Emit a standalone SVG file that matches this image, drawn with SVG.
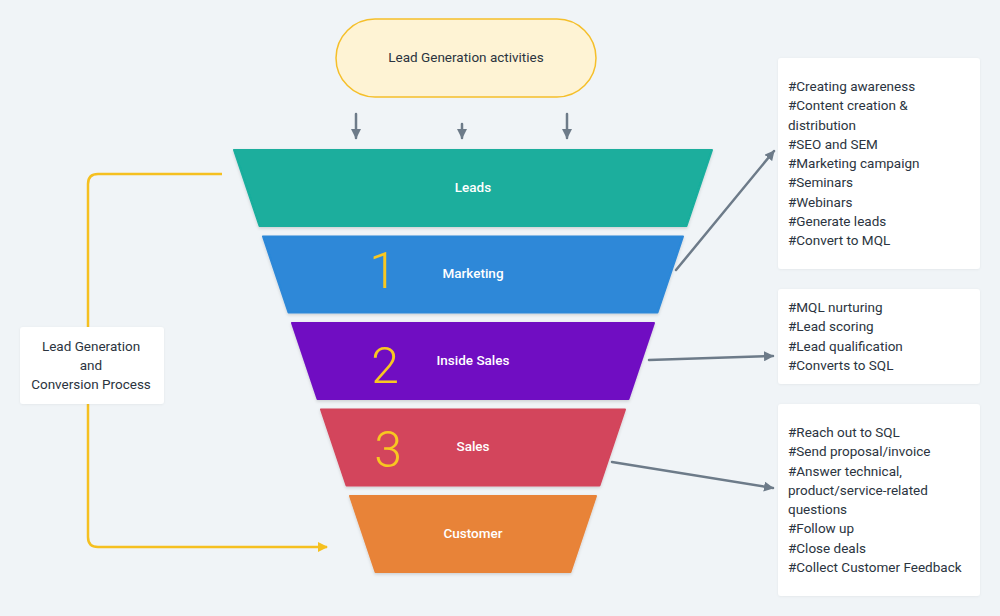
<svg xmlns="http://www.w3.org/2000/svg" width="1000" height="616" viewBox="0 0 1000 616">
  <defs>
    <style>
      .bg { fill: #f0f4f7; }
      .band { stroke-width: 2; stroke-linejoin: round; filter: url(#sh); }
      .lbl { font-family: Roboto, "Noto Sans", sans-serif; font-size: 13.5px; font-weight: 500; fill: #ffffff; text-anchor: middle; dominant-baseline: central; }
      .num { font-family: Roboto, "Noto Sans", sans-serif; font-size: 50px; font-weight: 300; fill: #f8c721; text-anchor: middle; dominant-baseline: central; }
      .txt { font-family: Roboto, "Noto Sans", sans-serif; font-size: 13.5px; fill: #2b3440; dominant-baseline: central; }
      .ctr { text-anchor: middle; }
      .box { fill: #ffffff; filter: url(#sh2); }
      .gray { fill: none; stroke: #6d7b89; stroke-width: 2.5; stroke-linecap: round; }
      .yel { fill: none; stroke: #f5c020; stroke-width: 2.5; }
    </style>
    <filter id="sh" x="-10%" y="-10%" width="120%" height="130%">
      <feDropShadow dx="0" dy="1.5" stdDeviation="1.5" flood-color="#000" flood-opacity="0.15"/>
    </filter>
    <filter id="sh2" x="-10%" y="-10%" width="120%" height="120%">
      <feDropShadow dx="0" dy="0.5" stdDeviation="0.8" flood-color="#000" flood-opacity="0.06"/>
    </filter>
    <marker id="ag" viewBox="0 0 10 10" refX="9" refY="5" markerWidth="10" markerHeight="10" markerUnits="userSpaceOnUse" orient="auto">
      <path d="M0,0 L10,5 L0,10 Z" fill="#6d7b89"/>
    </marker>
    <marker id="ay" viewBox="0 0 10 10" refX="9" refY="5" markerWidth="10" markerHeight="10" markerUnits="userSpaceOnUse" orient="auto">
      <path d="M0,0 L10,5 L0,10 Z" fill="#f5c020"/>
    </marker>
  </defs>

  <rect class="bg" x="0" y="0" width="1000" height="616"/>

  <g id="connectors">
    <line class="gray" x1="356" y1="114" x2="356" y2="138" marker-end="url(#ag)"/>
    <line class="gray" x1="462" y1="124" x2="462" y2="138" marker-end="url(#ag)"/>
    <line class="gray" x1="567" y1="114" x2="567" y2="138" marker-end="url(#ag)"/>
    <path class="yel" d="M222,174 H98 Q88,174 88,184 V537 Q88,547 98,547 H327" marker-end="url(#ay)"/>
    <line class="gray" x1="676" y1="270" x2="774" y2="151" marker-end="url(#ag)"/>
    <line class="gray" x1="649" y1="360" x2="773" y2="356" marker-end="url(#ag)"/>
    <line class="gray" x1="612" y1="462" x2="773" y2="488" marker-end="url(#ag)"/>
  </g>

  <g id="lead-gen-activities">
    <rect x="336" y="19" width="260" height="78" rx="39" fill="#fef3d4" stroke="#f5bf2a" stroke-width="1.5"/>
    <text class="txt ctr" x="466" y="57">Lead Generation activities</text>
  </g>

  <g id="leads">
    <polygon class="band" points="234,150 712,150 686.5,226 259.5,226" fill="#1aae9d" stroke="#1aae9d"/>
    <text class="lbl" x="473" y="187">Leads</text>
  </g>

  <g id="marketing">
    <polygon class="band" points="263,236.5 683,236.5 657.5,312.5 288.5,312.5" fill="#2d88d8" stroke="#2d88d8"/>
    <text class="num" x="383" y="271">1</text>
    <text class="lbl" x="473" y="273">Marketing</text>
  </g>

  <g id="inside-sales">
    <polygon class="band" points="292,323 654,323 628.5,399 317.5,399" fill="#700cc2" stroke="#700cc2"/>
    <text class="num" x="385" y="366">2</text>
    <text class="lbl" x="473" y="360">Inside Sales</text>
  </g>

  <g id="sales">
    <polygon class="band" points="321,409.5 625,409.5 599.5,485.5 346.5,485.5" fill="#d3455b" stroke="#d3455b"/>
    <text class="num" x="388" y="450">3</text>
    <text class="lbl" x="473" y="446">Sales</text>
  </g>

  <g id="customer">
    <polygon class="band" points="350,496 596,496 570.5,572 375.5,572" fill="#e88338" stroke="#e88338"/>
    <text class="lbl" x="473" y="533">Customer</text>
  </g>

  <g id="process-label">
    <rect class="box" x="20" y="327" width="144" height="77" rx="3"/>
    <text class="txt ctr" x="91" y="346">Lead Generation</text>
    <text class="txt ctr" x="91" y="365">and</text>
    <text class="txt ctr" x="91" y="384">Conversion Process</text>
  </g>

  <g id="marketing-notes">
    <rect class="box" x="778" y="58" width="202" height="211" rx="3"/>
    <text class="txt" x="788" y="86">#Creating awareness</text>
    <text class="txt" x="788" y="105">#Content creation &amp;</text>
    <text class="txt" x="788" y="124.5">distribution</text>
    <text class="txt" x="788" y="144">#SEO and SEM</text>
    <text class="txt" x="788" y="163">#Marketing campaign</text>
    <text class="txt" x="788" y="182">#Seminars</text>
    <text class="txt" x="788" y="201.5">#Webinars</text>
    <text class="txt" x="788" y="221">#Generate leads</text>
    <text class="txt" x="788" y="240">#Convert to MQL</text>
  </g>

  <g id="inside-sales-notes">
    <rect class="box" x="778" y="289" width="202" height="95" rx="3"/>
    <text class="txt" x="788" y="307">#MQL nurturing</text>
    <text class="txt" x="788" y="326">#Lead scoring</text>
    <text class="txt" x="788" y="345.5">#Lead qualification</text>
    <text class="txt" x="788" y="365">#Converts to SQL</text>
  </g>

  <g id="sales-notes">
    <rect class="box" x="778" y="404" width="202" height="192" rx="3"/>
    <text class="txt" x="788" y="432">#Reach out to SQL</text>
    <text class="txt" x="788" y="451">#Send proposal/invoice</text>
    <text class="txt" x="788" y="470.5">#Answer technical,</text>
    <text class="txt" x="788" y="490">product/service-related</text>
    <text class="txt" x="788" y="509">questions</text>
    <text class="txt" x="788" y="528">#Follow up</text>
    <text class="txt" x="788" y="547.5">#Close deals</text>
    <text class="txt" x="788" y="567">#Collect Customer Feedback</text>
  </g>
</svg>
